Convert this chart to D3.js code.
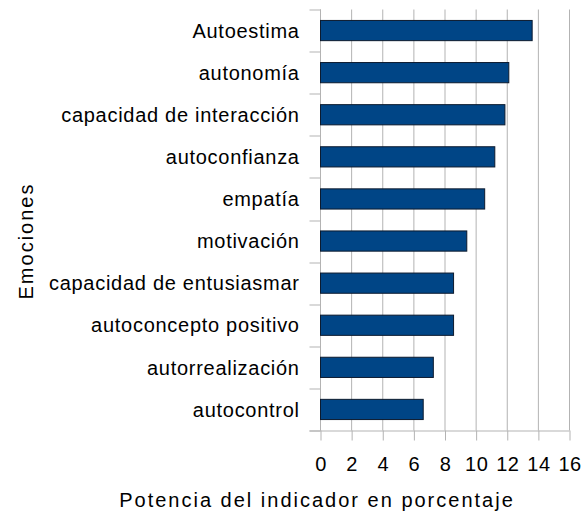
<!DOCTYPE html>
<html>
<head>
<meta charset="utf-8">
<title>Emociones</title>
<script src="https://d3js.org/d3.v7.min.js"></script>
<style>
  body { margin: 0; background: #fff; }
  svg text { font-family: "Liberation Sans", Arial, sans-serif; fill: #000; }
</style>
</head>
<body>
<div id="chart"></div>
<script>
// data
var categories = ["Autoestima", "autonomía", "capacidad de interacción", "autoconfianza",
  "empatía", "motivación", "capacidad de entusiasmar", "autoconcepto positivo",
  "autorrealización", "autocontrol"];
var values = [13.6, 12.1, 11.85, 11.2, 10.55, 9.4, 8.55, 8.55, 7.25, 6.6];
var xTicks = [0, 2, 4, 6, 8, 10, 12, 14, 16];

var W = 584, H = 515;
var margin = {top: 9.5, right: 14.5, bottom: 84.5, left: 320.5};
var width = W - margin.left - margin.right;
var height = H - margin.top - margin.bottom;

var svg = d3.select("#chart").append("svg")
  .attr("width", W).attr("height", H);
var g = svg.append("g")
  .attr("transform", "translate(" + margin.left + "," + margin.top + ")");

var x = d3.scaleLinear().domain([0, 16]).range([0, width]);
var y = d3.scaleBand().domain(categories).range([0, height]).paddingInner(0.52).paddingOuter(0.26);
var yEdge = d3.scaleBand().domain(categories).range([0, height]);

// vertical grid
g.selectAll(".grid").data(xTicks).enter().append("line")
  .attr("x1", function(d) { return x(d); }).attr("x2", function(d) { return x(d); })
  .attr("y1", 0).attr("y2", height)
  .attr("stroke", "#b3b3b3").attr("stroke-width", 1);

// left axis line and ticks between categories
g.append("line").attr("x1", 0).attr("x2", 0).attr("y1", 0).attr("y2", height)
  .attr("stroke", "#b3b3b3");
var edges = categories.map(function(c) { return yEdge(c); }).concat([height]);
g.selectAll(".ytick").data(edges).enter().append("line")
  .attr("x1", -11).attr("x2", 0)
  .attr("y1", function(d) { return Math.round(d) + 0.5; })
  .attr("y2", function(d) { return Math.round(d) + 0.5; })
  .attr("stroke", "#b3b3b3");

// bottom axis
var xAxis = g.append("g")
  .attr("transform", "translate(0," + height + ")")
  .call(d3.axisBottom(x).tickValues(xTicks).tickSize(10).tickPadding(12).tickSizeOuter(0));
xAxis.select(".domain").attr("stroke", "#b3b3b3").attr("d", "M-11,0.5H" + width);
xAxis.selectAll(".tick line").attr("stroke", "#b3b3b3");
xAxis.selectAll(".tick text").attr("font-size", null).attr("font-family", null)
  .style("font-size", "20px").style("letter-spacing", "0.4px")
  .attr("fill", "#000").attr("dy", null).attr("y", 40);

// bars
g.selectAll(".bar").data(values).enter().append("rect")
  .attr("x", x(0))
  .attr("y", function(d, i) { return y(categories[i]); })
  .attr("width", function(d) { return x(d) - x(0); })
  .attr("height", y.bandwidth())
  .attr("fill", "#004586")
  .attr("stroke", "#0c1a2e").attr("stroke-width", 1);

// category labels
g.selectAll(".cat").data(categories).enter().append("text")
  .attr("x", -20.8)
  .attr("y", function(d) { return yEdge(d) + yEdge.bandwidth() / 2; })
  .attr("dy", "0.36em")
  .attr("text-anchor", "end")
  .style("font-size", "20px")
  .style("letter-spacing", "0.72px")
  .text(function(d) { return d; });

// axis titles
svg.append("text")
  .attr("x", 317).attr("y", 506.5)
  .attr("text-anchor", "middle")
  .style("font-size", "20px")
  .style("letter-spacing", "2px")
  .text("Potencia del indicador en porcentaje");
svg.append("text")
  .attr("transform", "translate(33,241) rotate(-90)")
  .attr("text-anchor", "middle")
  .style("font-size", "20px")
  .style("letter-spacing", "2px")
  .text("Emociones");
</script>
</body>
</html>
